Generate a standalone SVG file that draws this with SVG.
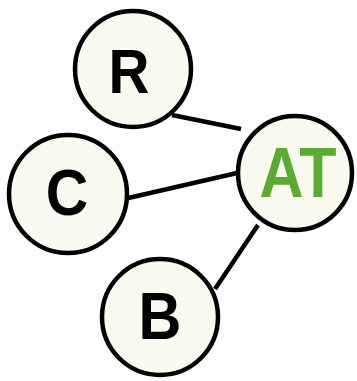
<svg xmlns="http://www.w3.org/2000/svg" width="357" height="381" viewBox="0 0 357 381">
<style>
.n circle{fill:#fafaf1;stroke:#000;stroke-width:4.5}
.n text{font-family:"Liberation Sans",Arial,sans-serif;font-weight:bold;text-anchor:middle}
.e line{stroke:#000;stroke-width:4.5;stroke-linecap:butt}
</style>
<rect width="357" height="381" fill="#fff"/>
<g id="edges" class="e">
<line x1="172" y1="115" x2="241" y2="129"/>
<line x1="124" y1="199" x2="237" y2="173"/>
<line x1="215" y1="289" x2="258" y2="225"/>
</g>
<g id="node-R" class="n"><circle cx="133" cy="69" r="58"/><text transform="translate(129,93) scale(0.9,1)" font-size="63" fill="#000">R</text></g>
<g id="node-C" class="n"><circle cx="68" cy="194" r="59"/><text transform="translate(67,215) scale(0.92,1)" font-size="64" fill="#000">C</text></g>
<g id="node-B" class="n"><circle cx="160" cy="317" r="58"/><text transform="translate(160,339) scale(0.9,1)" font-size="66" fill="#000">B</text></g>
<g id="node-AT" class="n"><circle cx="295" cy="173" r="57"/><text transform="translate(298,197) scale(0.86,1)" font-size="71" fill="#5aab2f">AT</text></g>
</svg>
